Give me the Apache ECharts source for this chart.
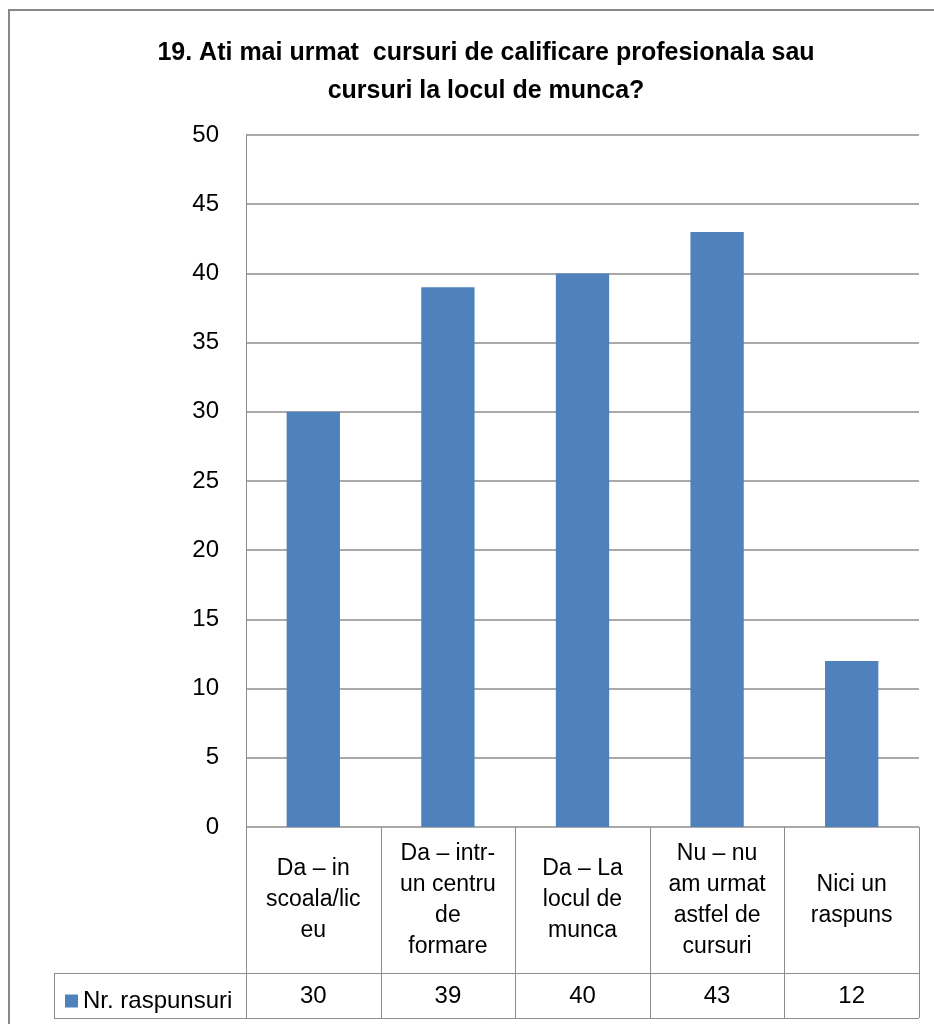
<!DOCTYPE html>
<html>
<head>
<meta charset="utf-8">
<script src="https://cdn.jsdelivr.net/npm/echarts@6/dist/echarts.min.js"></script>
<style>
html,body{margin:0;padding:0;background:#fff;}
#c{width:934px;height:1024px;}
</style>
</head>
<body>
<div id="c"></div>
<script>
var titleLines = ["19. Ati mai urmat  cursuri de calificare profesionala sau", "cursuri la locul de munca?"];
var categories = ["Da – in\nscoala/lic\neu", "Da – intr-\nun centru\nde\nformare", "Da – La\nlocul de\nmunca", "Nu – nu\nam urmat\nastfel de\ncursuri", "Nici un\nraspuns"];
var seriesName = "Nr. raspunsuri";
var values = [30, 39, 40, 43, 12];
var yTicks = [0, 5, 10, 15, 20, 25, 30, 35, 40, 45, 50];

var FONT = "'Liberation Sans', Arial, sans-serif";
var G = {left: 246, right: 15, top: 135, bottom: 197};
var W = 934, H = 1024;
var gx0 = G.left, gx1 = W - G.right, gy1 = H - G.bottom;
var row1 = 973, row2 = 1018, legLeft = 54;
var lineColor = '#8c8c8c';

var chart = echarts.init(document.getElementById('c'), null, {renderer: 'canvas'});

var graphics = [];
graphics.push({type: 'polyline', shape: {points: [[9, H + 5], [9, 10], [W + 5, 10]]}, style: {stroke: '#888', lineWidth: 2, fill: null}});
var n = categories.length;
var cw = (gx1 - gx0) / n;
for (var k = 0; k <= n; k++) {
  var x = Math.round(gx0 + k * cw) + 0.5;
  graphics.push({type: 'line', shape: {x1: x, y1: gy1, x2: x, y2: row2}, style: {stroke: lineColor, lineWidth: 1}});
}
graphics.push({type: 'line', shape: {x1: legLeft + 0.5, y1: row1, x2: legLeft + 0.5, y2: row2}, style: {stroke: lineColor, lineWidth: 1}});
graphics.push({type: 'line', shape: {x1: legLeft, y1: row1 + 0.5, x2: gx1, y2: row1 + 0.5}, style: {stroke: lineColor, lineWidth: 1}});
graphics.push({type: 'line', shape: {x1: legLeft, y1: row2 + 0.5, x2: gx1, y2: row2 + 0.5}, style: {stroke: lineColor, lineWidth: 1}});

chart.setOption({
  animation: false,
  backgroundColor: '#fff',
  title: {
    text: titleLines.join('\n'),
    left: 481, top: 29, textAlign: 'center',
    textStyle: {fontFamily: FONT, fontWeight: 'bold', fontSize: 25, color: '#000', lineHeight: 38}
  },
  legend: {
    left: 60, top: 984, icon: 'rect', itemWidth: 13, itemHeight: 13, itemGap: 8,
    textStyle: {fontFamily: FONT, fontSize: 24, color: '#000'},
    data: [seriesName]
  },
  grid: {left: G.left, right: G.right, top: G.top, bottom: G.bottom, containLabel: false},
  xAxis: [{
    type: 'category', data: categories, position: 'bottom',
    axisLine: {show: false}, axisTick: {show: false},
    axisLabel: {interval: 0, margin: 73, verticalAlign: 'middle', fontFamily: FONT, fontSize: 23, lineHeight: 31, color: '#000', align: 'center'}
  }, {
    type: 'category', data: categories, position: 'bottom',
    axisLine: {show: false}, axisTick: {show: false},
    axisLabel: {interval: 0, margin: 169, verticalAlign: 'middle', fontFamily: FONT, fontSize: 24, color: '#000',
      formatter: function (v, i) { return String(values[i]); }}
  }],
  yAxis: {
    type: 'value', min: yTicks[0], max: yTicks[yTicks.length - 1], interval: yTicks[1] - yTicks[0],
    axisLine: {show: true, lineStyle: {color: lineColor, width: 1}},
    axisTick: {show: false},
    axisLabel: {margin: 27, fontFamily: FONT, fontSize: 24, color: '#000'},
    splitLine: {lineStyle: {color: lineColor, width: 1.5}}
  },
  series: [{
    name: seriesName, type: 'bar', data: values, xAxisIndex: 0,
    barWidth: '39.6%',
    itemStyle: {color: '#4F81BD'}
  }],
  graphic: graphics
});
</script>
</body>
</html>
